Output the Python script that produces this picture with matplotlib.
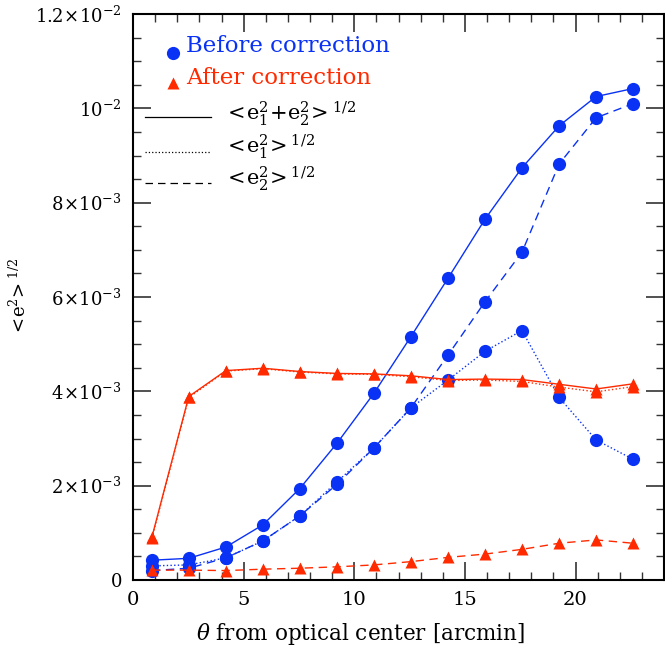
import matplotlib
matplotlib.use("Agg")
import matplotlib.pyplot as plt
from matplotlib.ticker import FixedLocator, MultipleLocator
from matplotlib.lines import Line2D

plt.rcParams['font.family'] = ['DejaVu Serif']
plt.rcParams['mathtext.fontset'] = 'dejavuserif'

theta = [0.86, 2.52, 4.2, 5.87, 7.54, 9.22, 10.89, 12.56, 14.24, 15.91, 17.58, 19.26, 20.93, 22.6]

before_tot = [0.00042, 0.00046, 0.00070, 0.00117, 0.00194, 0.00290, 0.00396, 0.00516,
              0.00640, 0.00765, 0.00874, 0.00963, 0.01025, 0.01042]
before_e1 = [0.00030, 0.00032, 0.00047, 0.00083, 0.00136, 0.00208, 0.00280, 0.00365,
             0.00424, 0.00485, 0.00529, 0.00387, 0.00297, 0.00256]
before_e2 = [0.00020, 0.00025, 0.00047, 0.00083, 0.00136, 0.00203, 0.00280, 0.00365,
             0.00477, 0.00590, 0.00695, 0.00882, 0.00980, 0.01010]

after_tot = [0.00092, 0.00389, 0.00444, 0.00449, 0.00442, 0.00438, 0.00437, 0.00433,
             0.00425, 0.00426, 0.00425, 0.00415, 0.00405, 0.00416]
after_e1 = [0.00090, 0.00387, 0.00443, 0.00448, 0.00441, 0.00437, 0.00436, 0.00431,
            0.00423, 0.00424, 0.00421, 0.00409, 0.00399, 0.00410]
after_e2 = [0.00021, 0.00021, 0.00020, 0.00023, 0.00025, 0.00028, 0.00032, 0.00039,
            0.00048, 0.00055, 0.00065, 0.00078, 0.00085, 0.00078]

ytick_vals = [0, 0.002, 0.004, 0.006, 0.008, 0.010, 0.012]
ytick_labels = ['0', r'$2\!\times\!10^{-3}$', r'$4\!\times\!10^{-3}$', r'$6\!\times\!10^{-3}$',
                r'$8\!\times\!10^{-3}$', r'$10^{-2}$', r'$1.2\!\times\!10^{-2}$']
xtick_vals = [0, 5, 10, 15, 20]
xtick_labels = ['0', '5', '10', '15', '20']

BLUE = '#0a32f5'
RED = '#ff2a00'

fig = plt.figure(figsize=(6.65, 6.52), dpi=100)
ax = fig.add_axes([0.2, 0.1104, 0.7985, 0.8681])

lw = 1.0
ms_c = 9.5
ms_t = 8.5
# before
ax.plot(theta, before_tot, '-', color=BLUE, lw=lw, marker='o', ms=ms_c, mec='none')
ax.plot(theta, before_e1, ':', color=BLUE, lw=lw, marker='o', ms=ms_c, mec='none')
ax.plot(theta, before_e2, '--', color=BLUE, lw=lw, marker='o', ms=ms_c, mec='none', dashes=(6, 4))
# after
ax.plot(theta, after_tot, '-', color=RED, lw=lw, marker='^', ms=ms_t, mec='none')
ax.plot(theta, after_e1, ':', color=RED, lw=lw, marker='^', ms=ms_t, mec='none')
ax.plot(theta, after_e2, '--', color=RED, lw=lw, marker='^', ms=ms_t, mec='none', dashes=(6, 4))

ax.set_xlim(0, 24)
ax.set_ylim(0, 0.012)
ax.xaxis.set_major_locator(FixedLocator(xtick_vals))
ax.set_xticklabels(xtick_labels)
ax.xaxis.set_minor_locator(MultipleLocator(1))
ax.yaxis.set_major_locator(FixedLocator(ytick_vals))
ax.set_yticklabels(ytick_labels)
ax.yaxis.set_minor_locator(MultipleLocator(0.0005))
ax.tick_params(which='both', direction='in', top=True, right=True, labelsize=13, color='#333333')
ax.tick_params(axis='x', labelsize=14)
ax.tick_params(which='major', length=13, width=1.2, pad=8)
ax.tick_params(which='minor', length=6, width=1.0)
for s in ax.spines.values():
    s.set_linewidth(1.5)

ax.set_ylabel(r'$<\!\mathrm{e}^2\!>^{1/2}$', fontsize=13, labelpad=4)


def px(x, y):
    return fig.transFigure.inverted().transform((x, 652 - y))


fig.text(*px(361, 634), r'$\theta$ from optical center [arcmin]', fontsize=15.5,
         ha='center', va='center')

# legend (manual)
ax.add_line(Line2D(*zip(*[px(173, 53)]), transform=fig.transFigure, marker='o', ms=ms_c, color=BLUE, mec='none', ls='none'))
fig.text(*px(186, 46), 'Before correction', color=BLUE, fontsize=16.5, va='center', ha='left')
ax.add_line(Line2D(*zip(*[px(173, 83)]), transform=fig.transFigure, marker='^', ms=ms_t, color=RED, mec='none', ls='none'))
fig.text(*px(186, 78), 'After correction', color=RED, fontsize=16.5, va='center', ha='left')

p1, p2 = px(145, 117), px(211, 117)
ax.add_line(Line2D([p1[0], p2[0]], [p1[1], p2[1]], transform=fig.transFigure, color='black', lw=0.9, ls='-'))
fig.text(*px(224, 114), r'$<\!\mathrm{e}_1^2\!+\!\mathrm{e}_2^2\!>^{1/2}$', fontsize=15, va='center', ha='left')
p1, p2 = px(145, 152), px(211, 152)
ax.add_line(Line2D([p1[0], p2[0]], [p1[1], p2[1]], transform=fig.transFigure, color='black', lw=0.9, ls=':'))
fig.text(*px(224, 147), r'$<\!\mathrm{e}_1^2\!>^{1/2}$', fontsize=15, va='center', ha='left')
p1, p2 = px(145, 183), px(211, 183)
ax.add_line(Line2D([p1[0], p2[0]], [p1[1], p2[1]], transform=fig.transFigure, color='black', lw=0.9, ls='--', dashes=(6, 4)))
fig.text(*px(224, 179), r'$<\!\mathrm{e}_2^2\!>^{1/2}$', fontsize=15, va='center', ha='left')

fig.savefig('out.png', dpi=100)
